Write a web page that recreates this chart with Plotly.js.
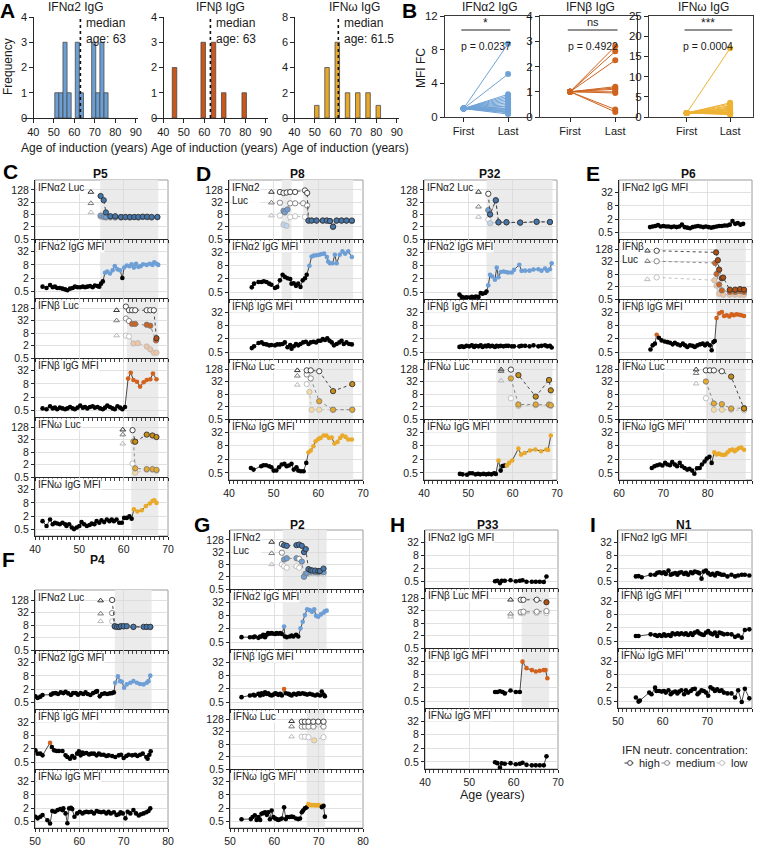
<!DOCTYPE html>
<html><head><meta charset="utf-8">
<script src="https://cdn.plot.ly/plotly-3.0.1.min.js"></script>
<style>html,body{margin:0;padding:0;background:#fff}#chart{width:757px;height:846px}</style>
</head><body><div id="chart"></div>
<script>
const W=757,H=846;
// ================= DATA =================
// Panel A: histograms of age of induction
const histAlphaX=[51.5,53.5,55.5,57.5,61.5,63.5,69.5,71.5,73.5,75.5];
const histAlphaY=[1,1,3,1,3,1,3,1,3,1];
const histBetaX=[45.5,59.5,64.5,69.5,79.5];
const histBetaY=[2,3,3,1,1];
const histOmegaX=[51,56,61,66,71,76,81];
const histOmegaY=[1,4,6,2,2,2,1];
const histMedians=[63,63,61.5];
const histMedianText=['median<br>age: 63','median<br>age: 63','median<br>age: 61.5'];
const histTitles=['IFNα2 IgG','IFNβ IgG','IFNω IgG'];
const histYMax=[4,4,8];
const histTicksX=[40,50,60,70,80,90];
// Panel B: MFI fold change first vs last
const bCats=['First','Last'];
const bAlphaFirst=[1,1,1,1,1,1,1,1,1,1,1,1,1,1,1,1,1,1];
const bAlphaLast=[8.7,5.1,2.7,2.5,2.3,2.1,1.9,1.7,1.5,1.3,1.2,1.0,0.9,0.8,0.7,0.6,0.5,0.35];
const bBetaFirst=[1,1,1,1,1,1,1,1,1,1];
const bBetaLast=[2.8,2.6,2.25,1.2,1.15,1.1,1.0,0.95,0.3,0.2];
const bOmegaFirst=[1,1,1,1,1,1,1,1,1,1,1,1,1,1,1,1,1,1];
const bOmegaLast=[17,3.5,3.2,2.8,2.5,2.2,2.0,1.8,1.6,1.5,1.3,1.2,1.1,1.0,0.9,0.8,0.7,0.6];
const bStars=['*','ns','***'];
const bPvals=['p = 0.0237','p = 0.4922','p = 0.0004'];
// Tick labels for time courses
const lucTicks=[0.5,2,8,32,128], lucTickText=['0.5','2','8','32','128'];
const mfiTicks=[0.5,2,8,32], mfiTickText=['0.5','2','8','32'];

// ---------- P5 ----------
const P5_shadeA2=[54.7,67.8], P5_shadeB=[60.7,67.8], P5_shadeW=[61.7,67.8];
const P5_a2Luc_triX=[52.6,52.6,52.6], P5_a2Luc_triY=[100,28,10];
const P5_a2Luc_hiX=[54.8,55.5,56.0,57.0,58.1,59.4,60.4,61.4,62.4,63.3,64.3,65.3,66.3,67.6];
const P5_a2Luc_hiY=[64,40,10,6.5,6.5,6,6,6,6,6,6.2,6.2,6,6];
const P5_a2Luc_hiF='11111111111111';
const P5_a2Luc_medX=[54.8,55.5,56.0,57.0,58.1,59.4,60.4,61.4,62.4,63.3,64.3,65.3,66.3,67.6];
const P5_a2Luc_medY=[7,6.2,6,6,5.8,5.6,5.8,5.6,5.8,5.6,6,5.8,5.6,5.8];
const P5_a2Luc_medF='11111111111111';
const P5_a2Luc_loX=[54.8,55.5,56.0,57.0,58.1];
const P5_a2Luc_loY=[6.2,5.8,5.5,5.6,5.5];
const P5_a2Luc_loF='11111';
const P5_a2Mfi_x=[41.7,42.6,43.4,44.0,44.5,45.0,45.6,46.2,46.8,47.3,47.9,48.5,49.0,49.6,50.2,50.8,51.3,51.8,52.4,53.0,53.5,54.1,54.5,54.9,55.3,55.8,56.3,56.9,57.5,58.0,58.6,59.2,59.7,60.1,60.7,61.3,61.8,62.3,62.8,63.3,63.8,64.4,65.2,65.9,66.5,66.9,67.4,67.8];
const P5_a2Mfi_y=[0.8,0.7,0.95,0.75,0.8,0.7,0.7,0.65,0.6,0.55,0.65,0.7,0.8,0.75,0.75,0.8,0.75,0.8,0.85,0.75,0.9,0.85,0.8,1.1,1.4,3.5,4,3.2,4.5,7,5,4.5,2,6,7.5,7,8.5,6,9,6.5,7,8.5,8,9,8,10.5,9,8];
const P5_a2Mfi_f='0000000000'+'0000000000'+'00000'+'1111111'+'0'+'111111111111111';
const P5_bLuc_triX=[58.4,58.4,58.4], P5_bLuc_triY=[100,32,6];
const P5_bLuc_hiX=[60.5,61.2,61.9,62.6,65.2,66.0,66.8,67.4], P5_bLuc_hiY=[150,100,100,100,100,100,100,4.5], P5_bLuc_hiF='00000001';
const P5_bLuc_medX=[60.5,61.2,61.9,62.6,65.2,66.0,67.3], P5_bLuc_medY=[40,30,22,22,20,18,3.5], P5_bLuc_medF='0011111';
const P5_bLuc_loX=[60.5,61.2,62.2,63.2,65.2,66.0,66.8,67.4], P5_bLuc_loY=[6,5.5,2.5,2.6,1.8,1.3,0.9,0.9], P5_bLuc_loF='00111111';
const P5_bMfi_x=[41.7,42.6,43.4,44.0,44.5,45.0,45.6,46.2,46.8,47.3,47.9,48.5,49.0,49.6,50.2,50.8,51.3,51.8,52.4,53.0,53.5,54.1,54.7,55.3,55.8,56.3,56.9,57.5,58.0,58.6,59.2,59.7,60.3,61.0,61.6,62.2,63.0,63.7,64.5,65.2,66.0,66.6,67.4];
const P5_bMfi_y=[0.6,0.55,0.75,0.6,0.65,0.55,0.65,0.6,0.55,0.6,0.7,0.6,0.55,0.65,0.8,0.65,0.7,0.6,0.7,0.75,0.65,0.7,0.6,0.55,0.65,0.8,0.7,0.6,0.55,0.75,0.65,0.55,0.7,14,26,12,10,6,9.5,12,13,24,13];
const P5_bMfi_f='0000000000'+'0000000000'+'0000000000'+'000'+'1111111111';
const P5_wLuc_triX=[59.8,59.8,59.8], P5_wLuc_triY=[95,55,20];
const P5_wLuc_hiX=[62.0,62.6,65.2,66.5,67.4], P5_wLuc_hiY=[90,25,55,50,42], P5_wLuc_hiF='01111';
const P5_wLuc_medX=[62.2,62.6,65.2,66.5,67.4], P5_wLuc_medY=[26,1.3,1.2,1.2,1.1], P5_wLuc_medF='11111';
const P5_wLuc_loX=[62.0,62.6,65.2,66.5,67.4], P5_wLuc_loY=[2.2,0.8,1.1,1.1,1.0], P5_wLuc_loF='01111';
const P5_wMfi_x=[41.7,42.6,43.4,44.0,44.5,45.0,45.6,46.2,46.8,47.1,47.7,48.3,48.8,49.4,50.0,50.5,51.1,51.7,52.3,52.8,53.4,53.9,54.5,55.0,55.6,56.2,56.8,57.3,57.8,58.4,59.0,59.6,60.1,60.7,61.3,61.8,62.3,63.1,64.1,65.0,65.9,66.5,66.9,67.4];
const P5_wMfi_y=[1.16,0.70,1.38,0.83,0.98,0.9,0.83,0.98,0.83,0.70,0.83,0.59,0.5,0.59,0.70,1.05,0.83,0.70,0.77,0.89,0.83,1.16,0.98,1.27,1.05,1.38,1.16,1.38,1.16,1.38,0.98,0.98,1.64,1.64,1.93,1.5,4.1,3.2,3.7,5.7,7.5,9.8,10.5,8];
const P5_wMfi_f='0000000000'+'0000000000'+'0000000000'+'000000'+'11111111';

// ---------- P8 ----------
const P8_shadeA2=[51.8,54.0,56.6,67.8], P8_shadeW=[57.8,67.8];
const P8_a2Luc_triX=[49.5,49.5,49.5], P8_a2Luc_triY=[100,30,7];
const P8_a2Luc_hiX=[51.4,52.2,52.9,53.7,54.8,57.0,57.5,57.8,58.5,59.6,61.0,61.9,62.6,63.3,64.1,65.2,66.3,67.5];
const P8_a2Luc_hiY=[100,90,95,100,100,120,90,4,4,4,4,4,3.8,2,4,4,4,4];
const P8_a2Luc_hiF='000000011111111111';
const P8_a2Luc_medX=[51.4,52.2,52.5,53.1,53.7,54.8,56.6,57.5,57.8,58.5,59.6,61.0,61.9,62.6,63.3,64.1,65.2,66.3,67.5];
const P8_a2Luc_medY=[30,12,10,14,28,28,28,22,4,4,4,4,4,3.8,2,4,4,4,3.8];
const P8_a2Luc_medF='0111000011111111111';
const P8_a2Luc_loX=[51.4,52.2,52.9,53.7,54.8,57.0,57.8,58.5,59.6,61.0,61.9,62.6,63.3,64.1,65.2,66.3,67.5];
const P8_a2Luc_loY=[7,2.5,2.2,6,6.5,6,4,4,4,4,4,3.8,2,4,4,4,3.8];
const P8_a2Luc_loF='01100011111111111';
const P8_a2Mfi_x=[45.1,45.6,46.6,47.3,47.8,48.4,49.0,49.5,50.3,50.8,51.4,52.0,52.5,53.1,53.7,54.0,54.5,55.0,55.5,56.0,56.5,57.0,57.4,58.0,58.5,59.0,59.6,60.2,60.7,61.3,61.9,62.2,62.6,63.2,63.7,64.1,64.8,65.4,66.0,66.7,67.5];
const P8_a2Mfi_y=[0.81,1.19,1.41,1.41,1.52,1.41,1.19,1.07,0.76,0.85,1.68,3.0,2.4,2.1,1.93,1.19,1.25,0.95,1.19,0.85,1.68,2.1,3.0,7.7,20,22,23,24,26,27,19,12,10,10,24,10,24,34,27,34,19];
const P8_a2Mfi_f='0000000000'+'0000000000'+'000'+'111111111111111111';
const P8_bMfi_x=[45.1,45.6,46.6,47.3,47.8,48.4,49.0,49.5,50.3,50.8,51.4,52.0,52.5,53.1,53.7,54.0,54.5,55.0,55.5,56.0,56.6,57.2,57.8,58.3,58.9,59.5,60.0,60.5,61.0,61.5,62.0,62.5,63.0,63.5,64.1,64.7,65.2,65.7,66.3,66.9,67.5];
const P8_bMfi_y=[0.75,0.91,1.27,1.36,1.15,1.1,1.0,1.03,1.0,1.1,1.1,1.15,1.36,0.82,1.03,0.7,0.91,1.15,1.0,1.15,1.36,1.45,1.15,1.36,1.45,1.36,1.6,1.6,1.9,1.75,2.08,1.6,1.36,1.0,1.15,1.36,1.6,1.15,1.36,1.15,1.1];
const P8_wLuc_triX=[55.3,55.3,55.3], P8_wLuc_triY=[110,60,22];
const P8_wLuc_hiX=[57.4,58.3,60.2,63.3,67.6], P8_wLuc_hiY=[110,110,100,11,24], P8_wLuc_hiF='00011';
const P8_wLuc_medX=[57.4,58.3,60.2,63.3,67.6], P8_wLuc_medY=[70,45,3.6,1.4,1.4], P8_wLuc_medF='00111';
const P8_wLuc_loX=[57.4,58.0,58.5,60.2,63.3,67.6], P8_wLuc_loY=[24,10,1.4,1.4,1.4,1.4], P8_wLuc_loF='011111';
const P8_wMfi_x=[44.9,45.5,47.2,47.7,48.3,49.0,49.5,50.0,50.6,51.2,51.8,52.4,52.9,53.4,54.0,54.5,55.1,55.5,56.1,56.7,57.3,57.8,58.3,58.9,59.4,60.0,60.5,61.2,61.8,62.4,63.0,63.6,64.3,64.9,65.4,66.1,66.7,67.5];
const P8_wMfi_y=[0.83,0.7,0.99,1.09,1.09,0.99,0.89,0.63,0.64,0.89,1.17,1.26,0.99,1.07,1.26,0.7,0.89,0.63,0.59,0.59,1.39,4.1,4.9,7.6,12.7,16,17.9,22.7,22.7,17.9,18.5,10,11.9,17.9,22.7,19.8,15.2,15.2];
const P8_wMfi_f='0000000000'+'0000000000'+'0'+'11111111111111111';

// ---------- P32 ----------
const P32_shadeA2=[54.1,69.0], P32_shadeW=[56.3,69.0];
const P32_a2Luc_triX=[52.3,52.3,52.3], P32_a2Luc_triY=[100,19,6];
const P32_a2Luc_hiX=[54.5,54.9,56.2,56.8,58.6,61.7,65.4,68.4], P32_a2Luc_hiY=[82,8,40,3.3,3.3,3.2,3.5,3.4], P32_a2Luc_hiF='01111111';
const P32_a2Luc_medX=[54.5,54.9,56.2,56.8,58.6,61.7,65.4,68.4], P32_a2Luc_medY=[13,8,38,3.3,3.3,3.2,3.5,3.4], P32_a2Luc_medF='11111111';
const P32_a2Luc_loX=[54.5,54.9,56.8,58.6,61.7,65.4,68.4], P32_a2Luc_loY=[4.5,3,3.2,3.2,3.1,3.4,3.3], P32_a2Luc_loF='0111111';
const P32_a2Mfi_x=[48.0,48.5,49.0,49.6,50.2,50.8,51.3,51.7,52.3,52.8,53.2,53.8,54.1,54.5,54.9,55.4,56.0,56.4,56.8,57.3,57.9,58.5,59.0,59.8,60.3,61.5,62.0,62.8,63.8,64.7,65.8,66.5,67.3,67.8,68.4,68.8];
const P32_a2Mfi_y=[0.38,0.30,0.28,0.29,0.28,0.3,0.29,0.31,0.3,0.45,0.42,0.45,0.53,1.0,3.0,2.5,1.8,6.3,2.3,4.0,4.2,4.0,3.8,3.8,5.0,8.5,4.5,4.6,4.6,5.2,5.3,4.6,5.8,4.6,5.3,10];
const P32_a2Mfi_f='0000000000'+'000'+'11111111111111111111111';
const P32_bMfi_x=[48.0,48.5,49.0,49.6,50.2,50.8,51.3,51.7,52.3,52.8,53.2,53.8,54.1,54.5,54.9,55.4,56.0,56.4,56.8,57.3,57.9,58.5,59.0,59.8,60.3,61.5,62.0,62.8,63.8,64.7,65.8,66.5,67.3,67.8,68.4,68.8];
const P32_bMfi_y=[0.85,0.9,0.85,0.95,0.9,1.0,0.85,0.95,0.9,1.0,0.85,0.95,0.9,1.0,0.9,0.95,0.85,0.95,0.9,0.95,0.9,0.95,0.95,0.9,0.9,0.9,0.95,0.95,0.9,1.0,0.9,0.95,1.0,0.9,0.95,0.8];
const P32_wLuc_triX=[57.4,57.4,57.4], P32_wLuc_triY=[120,100,35];
const P32_wLuc_hiX=[59.6,61.3,65.2,68.2,68.6], P32_wLuc_hiY=[120,65,6,38,12], P32_wLuc_hiF='01111';
const P32_wLuc_medX=[59.6,61.3,65.2,68.2,68.6], P32_wLuc_medY=[45,2.5,2.5,2.5,2.3], P32_wLuc_medF='11111';
const P32_wLuc_loX=[59.6,61.3,65.2,68.2,68.6], P32_wLuc_loY=[5,2.1,2.3,2.3,2.1], P32_wLuc_loF='01111';
const P32_wMfi_x=[48.1,48.7,49.7,50.3,50.9,51.6,52.2,52.7,53.4,54.0,54.6,55.2,55.8,56.2,56.8,57.3,57.7,58.2,58.7,59.2,59.9,61.3,61.9,62.7,63.9,65.1,66.4,67.6,68.0,68.6];
const P32_wMfi_y=[0.45,0.43,0.41,0.48,0.48,0.43,0.45,0.43,0.45,0.43,0.45,0.43,0.48,0.45,1.77,0.63,1.0,1.07,1.07,1.39,1.77,6.0,3.25,3.8,4.9,5.5,4.6,5.5,5.2,22.7];
const P32_wMfi_f='0000000000'+'0000'+'1'+'000'+'111111111111';

// ---------- P6 ----------
const P6_shadeB=[81.9,88.6], P6_shadeW=[79.6,88.6];
const P6_a2Mfi_x=[67.0,67.6,68.2,68.8,69.4,70.0,70.6,71.2,71.8,72.4,73.0,73.6,74.2,74.8,75.4,76.0,76.6,77.2,77.8,78.4,79.0,79.6,80.2,80.8,81.4,82.0,82.6,83.2,83.8,84.4,85.0,85.6,86.2,86.8,87.4,88.0];
const P6_a2Mfi_y=[0.85,0.9,0.95,1.05,0.9,0.95,0.9,0.9,0.85,0.9,0.85,0.9,1.1,0.85,0.8,0.75,0.85,0.9,0.95,0.9,0.85,0.9,0.85,0.8,0.85,0.9,0.95,0.95,1.0,1.0,1.1,1.6,1.2,1.3,1.1,1.2];
const P6_bLuc_triX=[66.4,66.4,66.4], P6_bLuc_triY=[105,33,4.4];
const P6_bLuc_hiX=[68.5,81.9,82.3,82.6,83.2,83.5,85.0,86.2,87.3,88.2], P6_bLuc_hiY=[105,88,37,13,5,5.4,1.4,1.4,1.5,1.4], P6_bLuc_hiF='0111111111';
const P6_bLuc_medX=[68.5,81.7,82.0,82.6,83.2,85.0,86.2,87.3,88.2], P6_bLuc_medY=[33,27,8,2.5,1.3,1.1,1.1,1.2,1.1], P6_bLuc_medF='011111111';
const P6_bLuc_loX=[68.5,81.5,82.0,82.6,83.5,85.0,86.2,87.3,88.2], P6_bLuc_loY=[5.5,4,2.2,0.9,0.8,0.8,0.8,0.8,0.8], P6_bLuc_loF='011111111';
const P6_bMfi_x=[67.1,67.6,68.1,68.5,69.0,69.6,70.3,70.9,71.5,72.1,72.6,73.2,73.8,74.4,74.9,75.4,76.0,76.6,77.1,77.7,78.3,78.9,79.4,79.9,80.5,80.9,81.3,81.6,82.0,82.6,83.2,83.7,84.3,84.9,85.4,85.9,86.5,87.1,87.6,88.2];
const P6_bMfi_y=[0.65,1.0,1.19,3.0,2.2,1.67,1.5,1.4,1.31,1.11,1.31,1.11,1.0,1.19,1.0,0.85,1.0,0.95,0.85,1.0,1.11,1.19,1.0,1.19,1.0,0.6,1.4,1.55,17,28,32,21,23,20,25,23,25,24,23,21];
const P6_bMfi_f='0001'+'0000000000'+'0000000000'+'0000'+'111111111111';
const P6_wLuc_triX=[77.4,77.4,77.4], P6_wLuc_triY=[120,80,25];
const P6_wLuc_hiX=[79.6,80.5,81.4,83.2,85.3,88.2], P6_wLuc_hiY=[110,110,110,100,55,1.6], P6_wLuc_hiF='000011';
const P6_wLuc_medX=[79.6,81.4,83.2,85.3,88.2], P6_wLuc_medY=[32,2.8,2.6,1.6,1.7], P6_wLuc_medF='11111';
const P6_wLuc_loX=[79.6,81.4,83.2,85.3,88.2], P6_wLuc_loY=[5,1.4,1.4,1.4,1.3], P6_wLuc_loF='01111';
const P6_wMfi_x=[67.4,68.0,68.6,69.2,69.8,70.4,70.9,71.5,72.0,72.6,73.1,73.7,74.2,74.8,75.4,75.9,76.5,77.0,77.6,78.2,78.7,79.3,79.8,80.4,80.9,81.5,82.0,82.5,83.0,83.5,84.0,84.5,85.0,85.6,86.1,86.6,87.1,87.6,88.2];
const P6_wMfi_y=[0.83,0.99,1.09,1.17,1.07,1.39,1.17,1.09,1.5,1.17,0.99,1.39,0.99,0.83,0.7,0.75,0.63,0.46,0.8,0.83,1.17,1.6,2.15,2.6,1.39,4.1,3.3,3.6,3.3,3.1,3.3,4.1,5.0,5.5,4.6,5.5,6.4,6.6,5.3];
const P6_wMfi_f='0000000000'+'0000000000'+'00000'+'11111111111111';

// ---------- P4 ----------
const P4_shadeA2=[68.0,76.3];
const P4_a2Luc_triX=[64.8,64.8,64.8], P4_a2Luc_triY=[120,28,12];
const P4_a2Luc_hiX=[67.4,68.0,68.5,69.0,69.4,70.0,70.7,72.2,74.5,75.2,76.0], P4_a2Luc_hiY=[128,7,6.5,6.5,7,7,7,6.5,6.5,6.5,6.5], P4_a2Luc_hiF='01111111111';
const P4_a2Luc_medX=[67.4,68.0,68.5,69.0,70.0,72.2,75.2,76.0], P4_a2Luc_medY=[30,6.8,6.5,6.5,7,6.5,6.5,6.5], P4_a2Luc_medF='01111111';
const P4_a2Luc_loX=[67.4,68.0,69.0,70.0,72.2,76.0], P4_a2Luc_loY=[12,6.5,6.3,6.5,6.3,6.3], P4_a2Luc_loF='011111';
const P4_a2Mfi_x=[50.1,50.6,51.2,51.7,53.6,54.1,54.7,55.2,55.8,56.4,56.9,57.5,58.1,58.6,59.2,59.7,60.3,60.9,61.4,61.9,62.5,63.1,63.7,64.0,64.6,65.1,65.7,66.3,66.9,67.4,67.8,68.1,68.7,69.2,69.6,70.1,70.7,71.5,72.2,73.0,73.7,74.5,75.2,75.6,76.0];
const P4_a2Mfi_y=[0.92,0.78,0.89,1.06,1.1,1.26,1.3,1.18,1.4,1.3,1.47,1.26,1.06,1.3,1.3,1.1,1.3,1.18,1.4,1.18,1.06,1.3,1.47,1.6,0.92,1.18,1.26,1.18,1.26,1.3,1.4,3.9,7.6,4.6,4.3,2.3,3.25,3.9,4.6,3.9,3.4,3.25,3.9,4.6,8.2];
const P4_a2Mfi_f='0000000000'+'0000000000'+'0000000000'+'0'+'11111111111111';
const P4_bMfi_x=[50.1,50.6,51.2,51.7,53.4,53.8,54.3,54.9,55.4,56.2,56.9,57.3,57.9,58.4,58.9,59.5,59.9,60.3,60.7,61.0,61.6,62.2,62.7,63.3,63.9,64.4,64.9,65.5,66.1,66.6,67.4,68.1,68.9,69.4,70.0,70.6,71.1,71.9,72.6,73.1,73.7,74.3,75.1,75.4,75.8,76.1];
const P4_bMfi_y=[1.68,1.19,1.19,1.0,3.7,2.38,1.68,1.57,1.57,1.57,1.0,0.84,0.71,0.93,0.78,1.19,1.52,1.0,1.32,1.19,1.28,1.1,1.19,1.19,1.0,1.19,1.07,1.07,0.93,1.0,0.93,0.84,1.0,1.07,0.76,0.93,1.07,1.0,1.07,0.93,1.07,1.19,0.84,0.71,1.07,1.52];
const P4_bMfi_f='00001';
const P4_wMfi_x=[50.1,50.6,51.2,51.7,52.8,53.4,53.9,54.5,55.1,55.7,56.2,56.4,56.9,57.3,57.7,58.1,58.4,58.9,59.5,60.1,60.7,61.2,61.6,62.1,62.7,63.3,63.9,64.4,64.9,65.5,66.1,66.6,67.1,67.8,68.4,68.9,69.3,69.8,70.4,70.9,71.5,72.2,72.8,73.4,73.9,74.5,75.1,75.6,76.0];
const P4_wMfi_y=[0.79,0.67,0.79,0.95,0.55,0.39,1.45,1.35,1.6,1.78,1.6,1.92,1.13,0.4,1.92,2.05,1.78,0.79,1.13,1.35,1.13,1.27,1.35,1.27,1.35,1.13,1.45,1.35,1.27,1.35,1.13,1.35,1.13,1.27,0.95,1.03,1.27,1.13,0.67,1.35,1.13,1.6,1.13,0.9,1.03,1.13,1.27,1.45,1.92];

// ---------- P2 ----------
const P2_shadeA2=[61.9,71.8], P2_shadeW=[67.3,71.4];
const P2_a2Luc_triX=[59.4,59.4,59.4], P2_a2Luc_triY=[100,28,8];
const P2_a2Luc_hiX=[61.7,62.2,62.8,65.0,65.6,66.2,66.7,67.1,67.7,68.2,68.6,69.2,69.9,70.3,71.1], P2_a2Luc_hiY=[80,70,65,70,75,65,32,45,4.7,4.2,4,4,3.8,3.8,5], P2_a2Luc_hiF='011111111111111';
const P2_a2Luc_medX=[61.7,62.2,62.8,65.0,65.6,66.2,66.7,67.3,68.2,69.2,69.9,71.1], P2_a2Luc_medY=[30,14,16,16,15,11,2,3,3.5,3.3,3.3,3.3], P2_a2Luc_medF='011101111111';
const P2_a2Luc_loX=[61.7,62.2,62.8,65.0,65.6,66.7,67.1,67.7,68.6,69.9,71.1], P2_a2Luc_loY=[8,6.5,5.5,6.5,5.5,2,2.6,2.8,3,2.8,2.8], P2_a2Luc_loF='00000111110';
const P2_a2Mfi_x=[52.6,54.5,55.3,55.6,56.4,56.8,57.1,57.5,57.9,58.3,58.6,59.0,59.4,59.8,60.2,60.5,60.9,61.3,61.7,62.2,62.4,62.8,63.5,63.9,64.3,64.9,65.4,65.9,66.4,66.9,67.4,68.0,68.5,69.0,69.4,69.9,70.5,71.1,71.4,71.8];
const P2_a2Mfi_y=[0.83,0.82,0.83,0.89,0.77,0.89,0.89,1.06,0.82,1.06,1.26,1.18,1.26,1.18,1.14,1.26,1.18,1.26,1.14,2.48,0.89,0.83,0.89,0.98,0.89,1.06,0.89,2.08,4.1,8.2,15.1,13.7,11.5,15.1,7.6,6.9,8.8,10.4,12.3,13];
const P2_a2Mfi_f='0000000000'+'000000000'+'1'+'0000000'+'1111111111111';
const P2_bMfi_x=[52.6,54.5,55.3,55.6,56.4,56.8,57.1,57.5,57.9,58.3,58.6,59.0,59.4,59.8,60.2,60.5,60.9,61.3,61.7,62.2,62.6,63.2,63.5,63.9,64.4,65.0,65.4,65.8,66.4,66.9,67.4,68.0,68.6,69.2,69.7,70.3,70.7,71.1,71.4];
const P2_bMfi_y=[0.83,0.98,1.05,0.98,1.16,0.98,1.24,1.08,1.37,1.16,1.24,1.05,0.98,1.08,1.24,1.16,1.05,1.16,0.98,1.93,1.24,1.16,1.08,0.98,1.16,1.08,1.24,1.16,1.24,1.16,1.08,1.16,1.08,0.98,1.08,0.98,1.48,1.08,0.92];
const P2_bMfi_f='0000000000'+'000000000'+'1';
const P2_wLuc_triX=[63.9,63.9,63.9], P2_wLuc_triY=[100,55,18];
const P2_wLuc_hiX=[66.2,66.9,67.7,68.8,69.9,71.1], P2_wLuc_hiY=[95,95,95,95,95,95], P2_wLuc_hiF='000000';
const P2_wLuc_medX=[66.2,66.9,67.7,68.8,71.1], P2_wLuc_medY=[55,55,55,55,55], P2_wLuc_medF='00000';
const P2_wLuc_loX=[66.2,66.9,67.7,69.0,71.1], P2_wLuc_loY=[18,18,17,12,17], P2_wLuc_loF='00010';
const P2_wMfi_x=[52.6,54.7,55.1,55.6,56.0,56.4,56.8,57.1,57.5,57.9,58.3,58.6,59.0,59.4,59.8,60.2,60.5,60.9,61.3,61.7,62.2,62.6,62.9,63.4,63.9,64.3,64.9,65.4,65.8,66.2,66.5,66.9,67.3,67.7,68.0,68.4,68.8,69.2,69.5,69.9,70.3,70.7,71.1,71.4];
const P2_wMfi_y=[0.61,0.62,0.77,0.92,0.57,0.77,0.56,1.09,1.17,1.28,0.97,1.28,0.61,1.53,0.77,0.66,0.62,0.56,0.61,0.66,2.14,0.62,0.77,0.77,0.8,0.77,0.66,0.62,0.66,1.28,1.53,1.93,2.14,3.0,2.7,2.7,2.7,2.7,2.6,2.7,2.6,2.2,2.5,0.8];
const P2_wMfi_f='0000000000'+'0000000000'+'0000000000'+'000'+'11111111'+'000';

// ---------- P33 ----------
const P33_shadeB=[61.8,68.0];
const P33_a2Mfi_x=[55.8,56.3,56.9,57.3,58.0,59.3,60.5,61.4,62.0,62.9,64.1,65.0,65.9,66.8,67.4];
const P33_a2Mfi_y=[0.5,0.53,0.41,0.52,0.53,0.56,0.5,0.53,0.56,0.47,0.47,0.47,0.47,0.46,0.83];
const P33_bLuc_triX=[59.3,59.3,59.3], P33_bLuc_triY=[105,22,16];
const P33_bLuc_hiX=[61.6,62.2,65.2,67.4], P33_bLuc_hiY=[105,105,105,80], P33_bLuc_hiF='0001';
const P33_bLuc_medX=[61.6,62.2,65.2,67.4], P33_bLuc_medY=[27,28,28,30], P33_bLuc_medF='0000';
const P33_bLuc_loX=[61.6,62.2,65.2,67.4], P33_bLuc_loY=[24,24,24,24], P33_bLuc_loF='0000';
const P33_bMfi_x=[55.8,56.3,56.9,57.5,58.0,59.3,60.5,61.4,62.0,62.9,64.1,65.0,65.9,66.8,67.2,67.6];
const P33_bMfi_y=[1.28,1.28,1.38,1.28,1.1,1.5,1.28,1.28,29.9,15.2,12.4,10.8,11.6,12.4,12.4,5.3];
const P33_bMfi_f='00000000'+'11111111';
const P33_wMfi_x=[55.8,56.3,56.9,57.3,58.0,59.3,60.5,61.4,62.0,62.9,64.1,65.0,65.9,66.8,67.4];
const P33_wMfi_y=[0.48,0.44,0.28,0.43,0.41,0.44,0.39,0.41,0.46,0.37,0.35,0.35,0.35,0.35,0.88];

// ---------- N1 ----------
const N1_a2Mfi_x=[54.0,54.6,55.3,57.3,58.3,58.8,59.3,59.8,60.3,60.7,61.3,61.8,62.2,62.8,63.3,63.7,64.2,64.8,65.2,65.7,66.3,66.7,67.2,67.8,68.2,68.7,69.2,69.7,70.2,70.7,71.2,71.7,72.2,72.7,73.2,73.7,74.5,75.4,76.2,76.9,77.7,78.4,79.4];
const N1_a2Mfi_y=[0.84,0.87,0.77,1.0,1.0,1.23,1.32,1.19,1.32,1.1,1.57,1.0,1.1,1.19,1.0,1.23,1.32,1.1,1.23,1.0,1.32,1.19,1.41,1.32,1.19,0.66,1.41,1.57,1.19,1.0,1.1,0.93,1.19,1.1,1.0,1.0,0.84,1.0,0.84,0.93,1.0,1.0,0.93];
const N1_bMfi_x=[54.0,54.6,57.3,58.3,58.8,59.3,59.8,60.3,60.7,61.3,61.8,62.2,62.8,63.3,63.7,64.2,64.8,65.2,65.7,66.3,66.7,67.2,67.8,68.2,68.7,69.2,69.7,70.2,70.7,71.2,71.7,72.2,72.7,73.2,73.7,74.5,75.4,76.2,76.9,77.7,78.4,79.4];
const N1_bMfi_y=[0.84,0.84,1.0,0.93,0.84,0.93,0.84,1.0,0.87,0.93,0.84,1.11,1.0,1.11,1.0,1.11,1.0,1.11,0.93,1.11,0.93,1.19,1.37,1.11,1.0,0.93,1.19,1.41,1.11,1.0,1.19,0.84,1.19,1.11,1.0,1.03,1.0,0.77,0.87,0.71,1.57,1.68];
const N1_wMfi_x=[54.0,54.6,54.9,57.0,57.5,58.3,58.6,59.2,59.8,60.3,60.7,61.3,61.8,62.2,62.8,63.3,63.7,64.2,64.8,65.2,65.7,66.3,66.7,67.2,67.8,68.2,68.7,69.2,69.7,70.2,70.7,71.2,71.7,72.2,72.7,73.2,73.7,74.5,75.4,76.2,76.9,77.7,78.4,79.4];
const N1_wMfi_y=[0.72,0.47,0.52,1.2,1.01,2.0,1.42,1.42,1.33,1.42,1.2,1.52,1.01,1.2,1.33,1.1,1.33,1.52,1.01,1.52,1.2,1.42,1.7,1.8,1.01,1.2,1.52,1.42,1.2,0.86,2.1,1.8,1.42,1.7,1.42,1.52,1.2,1.1,1.1,0.72,1.52,0.45,1.8,0.66];

// ================= STYLE / BUILD =================
const FONT='Liberation Sans, Arial, Helvetica, sans-serif';
const COL={
  a2:{hi:'#4577ad',med:'#6d9fd6',lo:'#bdd4ec',main:'#6d9fd6'},
  b:{hi:'#b24f12',med:'#d2611c',lo:'#f1c4a2',main:'#d2611c'},
  w:{hi:'#c98c14',med:'#e9a92a',lo:'#f6dba1',main:'#e9a92a'}
};
const EDGE={hi:'#333333',med:'#7c7c7c',lo:'#bababa'};
const GRID='#dadada', SHADE='#ebebeb', AXC='#262626';
const L2=Math.log10(2);
const LUC_RANGE=[Math.log10(0.5),8.6*L2], MFI_RANGE=[-2.05*L2,6.95*L2];

const layout={width:W,height:H,margin:{l:0,r:0,t:0,b:0},showlegend:false,
  paper_bgcolor:'#ffffff',plot_bgcolor:'rgba(0,0,0,0)',
  font:{family:FONT,size:10,color:'#1a1a1a'},shapes:[],annotations:[]};
const traces=[];
let nAx=0;
function addAxes(x0,x1,top,bottom,xa,ya){
  nAx++; const s=nAx===1?'':String(nAx);
  layout['xaxis'+s]=Object.assign({domain:[x0/W,x1/W],anchor:'y'+s},xa);
  layout['yaxis'+s]=Object.assign({domain:[1-bottom/H,1-top/H],anchor:'x'+s},ya);
  return {x:'x'+s,y:'y'+s};
}
function ann(text,xp,yp,o){
  layout.annotations.push(Object.assign({text:text,xref:'paper',yref:'paper',x:xp/W,y:1-yp/H,
    showarrow:false,xanchor:'center',yanchor:'middle',font:{size:11,family:FONT}},o||{}));
}

// ---------- Panel A ----------
const aStart=[23,153,284];
const aHist=[[histAlphaX,histAlphaY,'#6b9ed3',2],[histBetaX,histBetaY,'#c9561a',2.2],[histOmegaX,histOmegaY,'#e7a92c',2.2]];
const aTitleX=[76,220,354];
aHist.forEach((h,i)=>{
  const x0=aStart[i], x1=x0+114.8;
  const ax=addAxes(x0,x1,17,118,
    {range:[35,91],tickvals:histTicksX,ticks:'outside',ticklen:4,tickcolor:AXC,showline:true,linecolor:AXC,linewidth:1,showgrid:false,zeroline:false,tickfont:{size:11}},
    {anchor:'free',position:(x0+10.25)/W,range:[0,histYMax[i]],dtick:histYMax[i]/4,ticks:'outside',ticklen:4,tickcolor:AXC,showline:true,linecolor:AXC,linewidth:1,showgrid:false,zeroline:false,tickfont:{size:11}});
  traces.push({type:'bar',x:h[0],y:h[1],width:h[3],xaxis:ax.x,yaxis:ax.y,marker:{color:h[2],line:{color:'#4a4a4a',width:0.8}},hoverinfo:'skip'});
  layout.shapes.push({type:'line',xref:ax.x,yref:ax.y,x0:histMedians[i],x1:histMedians[i],y0:0,y1:histYMax[i],line:{color:'#111',width:1.6,dash:'dot'}});
  layout.annotations.push({text:histMedianText[i],xref:ax.x,x:histMedians[i],xshift:4,xanchor:'left',yref:'paper',y:1-14/H,yanchor:'top',align:'left',showarrow:false,font:{size:12,family:FONT}});
  ann(histTitles[i],aTitleX[i],7,{font:{size:12,family:FONT}});
  ann('Age of induction (years)',x0+10.25+51,148,{font:{size:12,family:FONT}});
});
ann('Frequency',8,67,{textangle:-90,font:{size:12,family:FONT}});

// ---------- Panel B ----------
const bPanels=[
  {first:bAlphaFirst,last:bAlphaLast,color:'#6fa2d6',xr:[-0.416,1.492],yr:[0,12],dt:4,x0:445,x1:530},
  {first:bBetaFirst,last:bBetaLast,color:'#cf6420',xr:[-0.665,1.481],yr:[0,4],dt:1,x0:540,x1:637},
  {first:bOmegaFirst,last:bOmegaLast,color:'#eeb233',xr:[-0.87,1.528],yr:[0,25],dt:5,x0:649,x1:753}
];
bPanels.forEach((b,i)=>{
  const ax=addAxes(b.x0,b.x1,16,117,
    {type:'category',categoryarray:bCats,range:b.xr,ticks:'outside',ticklen:4,tickcolor:AXC,showline:true,mirror:true,linecolor:'#3a3a3a',linewidth:1,showgrid:false,zeroline:false,tickfont:{size:11}},
    {range:b.yr,dtick:b.dt,ticks:'outside',ticklen:4,tickcolor:AXC,showline:true,mirror:true,linecolor:'#3a3a3a',linewidth:1,showgrid:false,zeroline:false,tickfont:{size:11.5}});
  const xs=[],ys=[];
  b.first.forEach((v,k)=>{xs.push(bCats[0],bCats[1],null);ys.push(v,b.last[k],null);});
  traces.push({type:'scatter',mode:'lines+markers',x:xs,y:ys,xaxis:ax.x,yaxis:ax.y,connectgaps:false,
    line:{color:b.color,width:1},marker:{color:b.color,size:6},cliponaxis:false,hoverinfo:'skip'});
  const cx=(b.x0+b.x1)/2;
  ann(histTitles[i],cx+2,7,{font:{size:12,family:FONT}});
  layout.annotations.push({text:bStars[i],xref:ax.x,x:0.5,yref:'paper',y:1-(i===1?22:23)/H,yanchor:'middle',showarrow:false,font:{size:i===1?11:12,family:FONT}});
  layout.shapes.push({type:'line',xref:ax.x,yref:'paper',x0:-0.05,x1:1.05,y0:1-30/H,y1:1-30/H,line:{color:'#222',width:1}});
  layout.annotations.push({text:bPvals[i],xref:ax.x,x:0.5,yref:'paper',y:1-38/H,showarrow:false,font:{size:10.5,family:FONT}});
});
ann('MFI FC',421,68,{textangle:-90,font:{size:12,family:FONT}});

// ---------- Time-course stacks ----------
function luc(c,label,shade,p){return {type:'luc',c:c,label:label,shade:shade,
  tri:[p+'_triX',p+'_triY'],lev:{hi:[p+'_hiX',p+'_hiY',p+'_hiF'],med:[p+'_medX',p+'_medY',p+'_medF'],lo:[p+'_loX',p+'_loY',p+'_loF']}};}
function mfi(c,label,shade,p){return {type:'mfi',c:c,label:label,shade:shade,d:[p+'_x',p+'_y',p+'_f']};}
const DATA={
P5_a2Luc_triX,P5_a2Luc_triY,P5_a2Luc_hiX,P5_a2Luc_hiY,P5_a2Luc_hiF,P5_a2Luc_medX,P5_a2Luc_medY,P5_a2Luc_medF,P5_a2Luc_loX,P5_a2Luc_loY,P5_a2Luc_loF,
P5_a2Mfi_x,P5_a2Mfi_y,P5_a2Mfi_f,
P5_bLuc_triX,P5_bLuc_triY,P5_bLuc_hiX,P5_bLuc_hiY,P5_bLuc_hiF,P5_bLuc_medX,P5_bLuc_medY,P5_bLuc_medF,P5_bLuc_loX,P5_bLuc_loY,P5_bLuc_loF,
P5_bMfi_x,P5_bMfi_y,P5_bMfi_f,
P5_wLuc_triX,P5_wLuc_triY,P5_wLuc_hiX,P5_wLuc_hiY,P5_wLuc_hiF,P5_wLuc_medX,P5_wLuc_medY,P5_wLuc_medF,P5_wLuc_loX,P5_wLuc_loY,P5_wLuc_loF,
P5_wMfi_x,P5_wMfi_y,P5_wMfi_f,
P8_a2Luc_triX,P8_a2Luc_triY,P8_a2Luc_hiX,P8_a2Luc_hiY,P8_a2Luc_hiF,P8_a2Luc_medX,P8_a2Luc_medY,P8_a2Luc_medF,P8_a2Luc_loX,P8_a2Luc_loY,P8_a2Luc_loF,
P8_a2Mfi_x,P8_a2Mfi_y,P8_a2Mfi_f,P8_bMfi_x,P8_bMfi_y,
P8_wLuc_triX,P8_wLuc_triY,P8_wLuc_hiX,P8_wLuc_hiY,P8_wLuc_hiF,P8_wLuc_medX,P8_wLuc_medY,P8_wLuc_medF,P8_wLuc_loX,P8_wLuc_loY,P8_wLuc_loF,
P8_wMfi_x,P8_wMfi_y,P8_wMfi_f,
P32_a2Luc_triX,P32_a2Luc_triY,P32_a2Luc_hiX,P32_a2Luc_hiY,P32_a2Luc_hiF,P32_a2Luc_medX,P32_a2Luc_medY,P32_a2Luc_medF,P32_a2Luc_loX,P32_a2Luc_loY,P32_a2Luc_loF,
P32_a2Mfi_x,P32_a2Mfi_y,P32_a2Mfi_f,P32_bMfi_x,P32_bMfi_y,
P32_wLuc_triX,P32_wLuc_triY,P32_wLuc_hiX,P32_wLuc_hiY,P32_wLuc_hiF,P32_wLuc_medX,P32_wLuc_medY,P32_wLuc_medF,P32_wLuc_loX,P32_wLuc_loY,P32_wLuc_loF,
P32_wMfi_x,P32_wMfi_y,P32_wMfi_f,
P6_a2Mfi_x,P6_a2Mfi_y,
P6_bLuc_triX,P6_bLuc_triY,P6_bLuc_hiX,P6_bLuc_hiY,P6_bLuc_hiF,P6_bLuc_medX,P6_bLuc_medY,P6_bLuc_medF,P6_bLuc_loX,P6_bLuc_loY,P6_bLuc_loF,
P6_bMfi_x,P6_bMfi_y,P6_bMfi_f,
P6_wLuc_triX,P6_wLuc_triY,P6_wLuc_hiX,P6_wLuc_hiY,P6_wLuc_hiF,P6_wLuc_medX,P6_wLuc_medY,P6_wLuc_medF,P6_wLuc_loX,P6_wLuc_loY,P6_wLuc_loF,
P6_wMfi_x,P6_wMfi_y,P6_wMfi_f,
P4_a2Luc_triX,P4_a2Luc_triY,P4_a2Luc_hiX,P4_a2Luc_hiY,P4_a2Luc_hiF,P4_a2Luc_medX,P4_a2Luc_medY,P4_a2Luc_medF,P4_a2Luc_loX,P4_a2Luc_loY,P4_a2Luc_loF,
P4_a2Mfi_x,P4_a2Mfi_y,P4_a2Mfi_f,P4_bMfi_x,P4_bMfi_y,P4_bMfi_f,P4_wMfi_x,P4_wMfi_y,
P2_a2Luc_triX,P2_a2Luc_triY,P2_a2Luc_hiX,P2_a2Luc_hiY,P2_a2Luc_hiF,P2_a2Luc_medX,P2_a2Luc_medY,P2_a2Luc_medF,P2_a2Luc_loX,P2_a2Luc_loY,P2_a2Luc_loF,
P2_a2Mfi_x,P2_a2Mfi_y,P2_a2Mfi_f,P2_bMfi_x,P2_bMfi_y,P2_bMfi_f,
P2_wLuc_triX,P2_wLuc_triY,P2_wLuc_hiX,P2_wLuc_hiY,P2_wLuc_hiF,P2_wLuc_medX,P2_wLuc_medY,P2_wLuc_medF,P2_wLuc_loX,P2_wLuc_loY,P2_wLuc_loF,
P2_wMfi_x,P2_wMfi_y,P2_wMfi_f,
P33_a2Mfi_x,P33_a2Mfi_y,
P33_bLuc_triX,P33_bLuc_triY,P33_bLuc_hiX,P33_bLuc_hiY,P33_bLuc_hiF,P33_bLuc_medX,P33_bLuc_medY,P33_bLuc_medF,P33_bLuc_loX,P33_bLuc_loY,P33_bLuc_loF,
P33_bMfi_x,P33_bMfi_y,P33_bMfi_f,P33_wMfi_x,P33_wMfi_y,
N1_a2Mfi_x,N1_a2Mfi_y,N1_bMfi_x,N1_bMfi_y,N1_wMfi_x,N1_wMfi_y
};
const stacks=[
 {letter:'C',lpos:[10,172],title:'P5',tpos:[100,174],x0:35,x1:168,xr:[40,70],tops:[180,239,298,358,417,477],bottom:536,rows:[
   luc('a2','IFNα2 Luc',P5_shadeA2,'P5_a2Luc'), mfi('a2','IFNα2 IgG MFI',P5_shadeA2,'P5_a2Mfi'),
   luc('b','IFNβ Luc',P5_shadeB,'P5_bLuc'), mfi('b','IFNβ IgG MFI',P5_shadeB,'P5_bMfi'),
   luc('w','IFNω Luc',P5_shadeW,'P5_wLuc'), mfi('w','IFNω IgG MFI',P5_shadeW,'P5_wMfi')]},
 {letter:'D',lpos:[203,173],title:'P8',tpos:[297,174],x0:229,x1:363,xr:[40,70],tops:[180,239,299,359,419],bottom:480,rows:[
   luc('a2','IFNα2<br>Luc',P8_shadeA2,'P8_a2Luc'), mfi('a2','IFNα2 IgG MFI',P8_shadeA2,'P8_a2Mfi'),
   mfi('b','IFNβ IgG MFI',null,'P8_bMfi'),
   luc('w','IFNω Luc',P8_shadeW,'P8_wLuc'), mfi('w','IFNω IgG MFI',P8_shadeW,'P8_wMfi')]},
 {letter:'',title:'P32',tpos:[490,174],x0:424,x1:557,xr:[40,70],tops:[180,239,299,359,419],bottom:480,rows:[
   luc('a2','IFNα2 Luc',P32_shadeA2,'P32_a2Luc'), mfi('a2','IFNα2 IgG MFI',P32_shadeA2,'P32_a2Mfi'),
   mfi('b','IFNβ IgG MFI',null,'P32_bMfi'),
   luc('w','IFNω Luc',P32_shadeW,'P32_wLuc'), mfi('w','IFNω IgG MFI',P32_shadeW,'P32_wMfi')]},
 {letter:'E',lpos:[593,173],title:'P6',tpos:[688,174],x0:619,x1:752,xr:[60,90],tops:[180,239,299,359,419],bottom:480,rows:[
   mfi('a2','IFNα2 IgG MFI',null,'P6_a2Mfi'),
   luc('b','IFNβ<br>Luc',P6_shadeB,'P6_bLuc'), mfi('b','IFNβ IgG MFI',P6_shadeB,'P6_bMfi'),
   luc('w','IFNω Luc',P6_shadeW,'P6_wLuc'), mfi('w','IFNω IgG MFI',P6_shadeW,'P6_wMfi')]},
 {letter:'F',lpos:[8,559],title:'P4',tpos:[97,560],x0:35,x1:168,xr:[50,80],tops:[590,650,709,769],bottom:828,rows:[
   luc('a2','IFNα2 Luc',P4_shadeA2,'P4_a2Luc'), mfi('a2','IFNα2 IgG MFI',P4_shadeA2,'P4_a2Mfi'),
   mfi('b','IFNβ IgG MFI',null,'P4_bMfi'), mfi('w','IFNω IgG MFI',null,'P4_wMfi')]},
 {letter:'G',lpos:[202,524],title:'P2',tpos:[297,525],x0:230,x1:363,xr:[50,80],tops:[530,589,649,709,769],bottom:828,rows:[
   luc('a2','IFNα2<br>Luc',P2_shadeA2,'P2_a2Luc'), mfi('a2','IFNα2 IgG MFI',P2_shadeA2,'P2_a2Mfi'),
   mfi('b','IFNβ IgG MFI',null,'P2_bMfi'),
   luc('w','IFNω Luc',P2_shadeW,'P2_wLuc'), mfi('w','IFNω IgG MFI',P2_shadeW,'P2_wMfi')]},
 {letter:'H',lpos:[398,524],title:'P33',tpos:[488,525],x0:425,x1:558,xr:[40,70],tops:[530,588,648,708],bottom:769,rows:[
   mfi('a2','IFNα2 IgG MFI',null,'P33_a2Mfi'),
   luc('b','IFNβ Luc MFI',P33_shadeB,'P33_bLuc'), mfi('b','IFNβ IgG MFI',P33_shadeB,'P33_bMfi'),
   mfi('w','IFNω IgG MFI',null,'P33_wMfi')]},
 {letter:'I',lpos:[593,524],title:'N1',tpos:[684,525],x0:618,x1:752,xr:[50,80],tops:[530,588,648],bottom:708,rows:[
   mfi('a2','IFNα2 IgG MFI',null,'N1_a2Mfi'), mfi('b','IFNβ IgG MFI',null,'N1_bMfi'), mfi('w','IFNω IgG MFI',null,'N1_wMfi')]}
];
function flagOn(f,i){return !!f && f.charAt(i)==='1';}
stacks.forEach(s=>{
  const nR=s.rows.length;
  layout.shapes.push({type:'rect',xref:'paper',yref:'paper',x0:s.x0/W,x1:s.x1/W,y0:1-s.bottom/H,y1:1-s.tops[0]/H,line:{color:'#9c9c9c',width:1},fillcolor:'rgba(0,0,0,0)',layer:'below'});
  s.rows.forEach((r,i)=>{
    const top=s.tops[i], bot=i<nR-1?s.tops[i+1]:s.bottom, last=i===nR-1, isLuc=r.type==='luc';
    const ax=addAxes(s.x0,s.x1,top,bot,
      {range:s.xr,dtick:10,tick0:0,ticks:'outside',ticklen:3,tickcolor:AXC,showticklabels:last,
       showline:true,linecolor:AXC,linewidth:1,showgrid:true,gridcolor:GRID,gridwidth:0.8,zeroline:false,
       minor:{dtick:1,tick0:0,ticks:'outside',ticklen:3,tickcolor:'#444',showgrid:false},
       tickfont:{size:10.5}},
      {type:'log',range:isLuc?LUC_RANGE:MFI_RANGE,tickvals:isLuc?lucTicks:mfiTicks,ticktext:isLuc?lucTickText:mfiTickText,
       ticks:'outside',ticklen:3,tickcolor:AXC,showline:true,linecolor:AXC,linewidth:1,showgrid:true,gridcolor:GRID,gridwidth:0.8,zeroline:false,
       tickfont:{size:10.5}});
    if(r.shade){for(let k=0;k<r.shade.length;k+=2){
      layout.shapes.push({type:'rect',xref:ax.x,yref:ax.y+' domain',x0:r.shade[k],x1:r.shade[k+1],y0:0,y1:1,fillcolor:SHADE,line:{width:0},layer:'below'});}}
    const col=COL[r.c];
    if(isLuc){
      const tx=DATA[r.tri[0]], ty=DATA[r.tri[1]];
      traces.push({type:'scatter',mode:'markers',x:tx,y:ty,xaxis:ax.x,yaxis:ax.y,hoverinfo:'skip',
        marker:{symbol:'triangle-up-open',size:5,color:[EDGE.hi,EDGE.med,EDGE.lo],line:{width:1}}});
      ['lo','med','hi'].forEach(lev=>{
        const d=r.lev[lev]; const xs=DATA[d[0]], ys=DATA[d[1]], f=DATA[d[2]];
        traces.push({type:'scatter',mode:'lines+markers',x:xs,y:ys,xaxis:ax.x,yaxis:ax.y,hoverinfo:'skip',
          line:{color:EDGE[lev],width:0.9,dash:'dot'},
          marker:{symbol:'circle',size:5.3,color:ys.map((v,k)=>flagOn(f,k)?col[lev]:'#ffffff'),line:{color:EDGE[lev],width:0.9}}});
      });
    } else {
      const xs=DATA[r.d[0]], ys=DATA[r.d[1]], f=DATA[r.d[2]];
      traces.push({type:'scatter',mode:'lines+markers',x:xs,y:ys,xaxis:ax.x,yaxis:ax.y,hoverinfo:'skip',
        line:{color:'#1a1a1a',width:0.8},
        marker:{symbol:'circle',size:4.6,color:ys.map((v,k)=>flagOn(f,k)?col.main:'#000000'),line:{width:0}}});
    }
    layout.annotations.push({text:r.label,xref:ax.x+' domain',x:0,xshift:2,xanchor:'left',yref:ax.y+' domain',y:1,yshift:-1,yanchor:'top',
      align:'left',showarrow:false,bgcolor:'rgba(255,255,255,0.9)',borderpad:0,font:{size:10,family:FONT,color:'#1a1a1a'}});
  });
  if(s.letter) ann('<b>'+s.letter+'</b>',s.lpos[0],s.lpos[1],{font:{size:21,family:FONT,color:'#000'}});
  ann('<b>'+s.title+'</b>',s.tpos[0],s.tpos[1],{font:{size:12,family:FONT,color:'#111'}});
});
ann('<b>A</b>',7,10,{font:{size:21,family:FONT,color:'#000'}});
ann('<b>B</b>',410,11,{font:{size:21,family:FONT,color:'#000'}});
ann('Age (years)',492,795,{font:{size:12.5,family:FONT}});

// ---------- Legend (concentration levels) ----------
ann('IFN neutr. concentration:',685,750,{font:{size:11.5,family:FONT}});
const legLevels=[['hi','high',630],['med','medium',667],['lo','low',722]];
legLevels.forEach(l=>{
  const cx=l[2], cy=763;
  layout.shapes.push({type:'line',xref:'paper',yref:'paper',x0:(cx-5.5)/W,x1:(cx+5.5)/W,y0:1-cy/H,y1:1-cy/H,line:{color:EDGE[l[0]],width:1,dash:'dot'}});
  layout.shapes.push({type:'circle',xref:'paper',yref:'paper',x0:(cx-2.4)/W,x1:(cx+2.4)/W,y0:1-(cy+2.4)/H,y1:1-(cy-2.4)/H,fillcolor:'#ffffff',line:{color:EDGE[l[0]],width:0.9},layer:'above'});
  ann(l[1],cx+6.5,cy,{xanchor:'left',font:{size:11,family:FONT}});
});

Plotly.newPlot('chart',traces,layout,{staticPlot:true,displayModeBar:false});
</script>
</body></html>
